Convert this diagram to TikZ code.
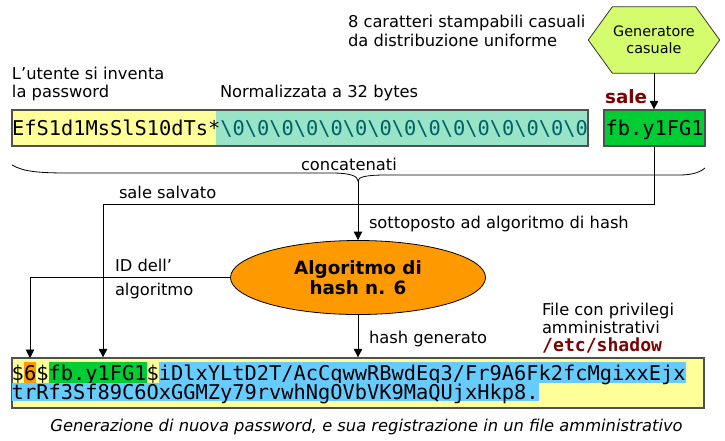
\documentclass[tikz,border=0pt]{standalone}
\usepackage{fontspec}
\setmainfont{DejaVu Sans}[BoldFont={DejaVu Sans Bold},ItalicFont={DejaVu Sans Oblique}]
\setmonofont{DejaVu Sans Mono}[BoldFont={DejaVu Sans Mono Bold}]
\usetikzlibrary{arrows.meta,shapes.geometric,backgrounds}
\definecolor{pwyellow}{RGB}{255,255,153}
\definecolor{pwteal}{RGB}{153,228,198}
\definecolor{tealtext}{RGB}{0,96,104}
\definecolor{saltgreen}{RGB}{0,204,51}
\definecolor{hexgreen}{RGB}{212,252,108}
\definecolor{algorange}{RGB}{255,153,0}
\definecolor{hashblue}{RGB}{102,204,255}
\definecolor{darkredtxt}{RGB}{128,0,0}
\definecolor{boxborder}{RGB}{80,80,80}
\newcommand{\mylab}{\fontsize{16.3}{19}\selectfont}
\newcommand{\mysmall}{\fontsize{14.4}{16.5}\selectfont}
\newcommand{\mymono}{\fontsize{20.35}{24}\selectfont\ttfamily}
\newcommand{\mybold}{\fontsize{18.3}{20}\selectfont\bfseries}
\newcommand{\bz}{\textbackslash 0}
\begin{document}
\begin{tikzpicture}[x=1pt,y=-1pt,
  lab/.style={font=\mylab, inner sep=0, outer sep=0, anchor=base west},
  conn/.style={draw=black, line width=0.9pt},
  arr/.style={conn, -{Triangle[length=8.5pt,width=8.5pt]}},
  segA/.style={font=\mymono, inner sep=0, outer sep=0, text height=18pt, text depth=3pt, anchor=base west},
  segB/.style={font=\mymono, inner sep=0, outer sep=0, text height=16.5pt, text depth=1.3pt, anchor=base west},
  boxline/.style={draw=boxborder, line width=1.3pt}]
\path[use as bounding box] (0,0) rectangle (725,440);

% top-right text and generator
\node[lab] (t8a) at (348,27.5) {8 caratteri stampabili casuali};
\node[lab] (t8b) at (348,46) {da distribuzione uniforme};
\node[minimum width=131pt, minimum height=66pt, inner sep=0, align=center, font=\mysmall] (gen) at (654,40) {Generatore\\casuale};
\begin{scope}[on background layer]
\draw[fill=hexgreen, draw=black!80, line width=0.8pt] (gen.west) -- ([xshift=24pt]gen.north west) -- ([xshift=-24pt]gen.north east) -- (gen.east) -- ([xshift=-24pt]gen.south east) -- ([xshift=24pt]gen.south west) -- cycle;
\end{scope}

% password labels
\node[lab] (ut1) at (12,79) {L’utente si inventa};
\node[lab] (ut2) at (12,97) {la password};
\node[lab] (norm) at (220,97) {Normalizzata a 32 bytes};
\node[font=\mybold, text=darkredtxt, inner sep=0, anchor=base west] (salelab) at (605,103) {sale};

% password box
\fill[pwyellow] (12,110) rectangle (216,146);
\fill[pwteal] (216,110) rectangle (588,146);
\node[boxline, minimum width=576pt, minimum height=36pt, inner sep=0, font=\mymono, text height=16pt, text depth=2pt] (pw) at (300,128) {EfS1d1MsSlS10dTs*\textcolor{tealtext}{\bz\bz\bz\bz\bz\bz\bz\bz\bz\bz\bz\bz\bz\bz\bz}};

% salt box
\node[boxline, fill=saltgreen, minimum width=101pt, minimum height=36pt, inner sep=0, font=\mymono, text height=16pt, text depth=2pt] (salt) at (654.5,128) {fb.y1FG1};
\draw[arr] (gen.south) -- (gen.south |- salt.north);

% brace
\draw[line width=0.8pt] (12,165) .. controls (24,172) and (40,173) .. (70,173) -- (332,173) .. controls (350,173) and (358,176) .. (358,181) .. controls (358,177) and (366,175) .. (386,175) -- (680,175) .. controls (694,175) and (702,171) .. (705,168);
\coordinate (tip) at (358,181);
\node[lab] (conc) at (301,170.5) {concatenati};

% ellipse
\node[ellipse, draw=black, line width=0.8pt, fill=algorange, minimum width=255pt, minimum height=74pt, inner sep=0, align=center, font=\mybold] (alg) at (358,277.5) {Algoritmo di\\[0pt]hash n. 6};

% bottom box
\node[boxline, fill=pwyellow, minimum width=692pt, minimum height=50pt, inner sep=0] (sh) at (358,383) {};
\node[segA] (a1) at (11.75,380) {\$};
\node[segA, fill=algorange] (a2) at (a1.base east) {6};
\node[segA] (a3) at (a2.base east) {\$};
\node[segA, fill=saltgreen] (a4) at (a3.base east) {fb.y1FG1};
\node[segA] (a5) at (a4.base east) {\$};
\node[segA, fill=hashblue] (a6) at (a5.base east) {iDlxYLtD2T/AcCqwwRBwdEq3/Fr9A6Fk2fcMgixxEjx};
\node[segB, fill=hashblue] (b1) at (11.75,399.5) {trRf3Sf89C6OxGGMZy79rvwhNgOVbVK9MaQUjxHkp8.};

% connectors
\coordinate (sv) at (103,204);
\coordinate (idx) at (30,358);
\draw[arr] (salt.south) |- (sv) -- (sv |- sh.north);
\draw[arr] (tip) -- (alg.north);
\draw[arr] (alg.west) -| (idx);
\draw[arr] (alg.south) -- (alg.south |- sh.north);

% labels on connectors
\node[lab] (salv) at (119,198) {sale salvato};
\node[lab] (sott) at (369,228) {sottoposto ad algoritmo di hash};
\node[lab] (id1) at (115,271.5) {ID dell’};
\node[lab] (id2) at (115,295) {algoritmo};
\node[lab] (hgen) at (369,343) {hash generato};
\node[lab] (f1) at (542,315.5) {File con privilegi};
\node[lab] (f2) at (542,333) {amministrativi};
\node[font=\fontsize{18.1}{20}\selectfont\ttfamily\bfseries, text=darkredtxt, inner sep=0, anchor=base west] (etc) at (542,351) {/etc/shadow};

% caption
\node[font=\mylab\itshape, inner sep=0, anchor=base] (cap) at (366.5,431) {Generazione di nuova password, e sua registrazione in un file amministrativo};
\end{tikzpicture}
\end{document}
